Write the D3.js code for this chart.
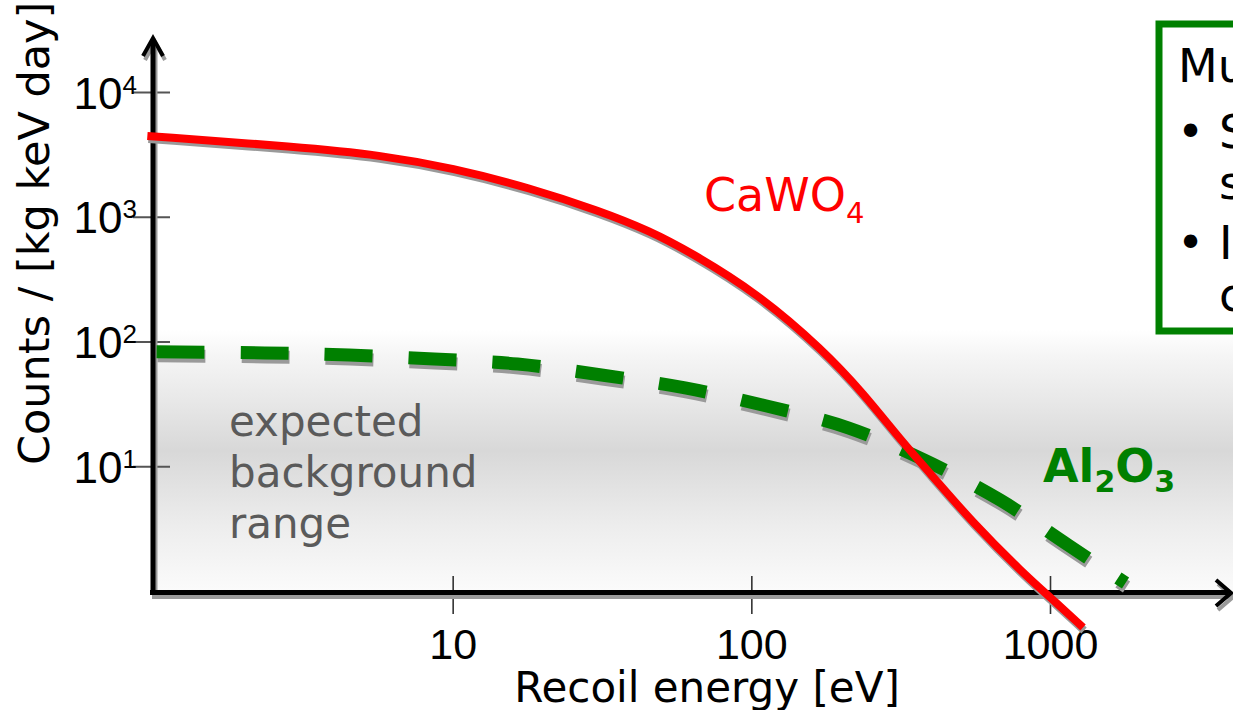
<!DOCTYPE html>
<html><head><meta charset="utf-8">
<script src="https://cdn.jsdelivr.net/npm/d3@7"></script>
<style>
body{margin:0;background:#fff;overflow:hidden}
svg{display:block;font-family:"DejaVu Sans",sans-serif}
</style>
</head><body>
<svg id="c" width="1233" height="710"></svg>
<script>
// ---- data ----
const energyCaWO4 = [0.95, 3.08, 5.71, 10, 18.2, 31.1, 45.8, 62.3, 104.5, 173.8, 236.6, 322, 396, 552, 813, 1000, 1290];
const countsCaWO4 = [4440, 3620, 3126, 2460, 1700, 1112, 769, 522, 245, 85.5, 38.7, 15.4, 8.83, 3.51, 1.39, 0.895, 0.51];
const energyAl2O3 = [1.02, 2.35, 4.5, 8.67, 16.5, 31.5, 60, 112.5, 211, 380, 680, 1148, 1790];
const countsAl2O3 = [82.6, 81, 78, 72.4, 66, 53.9, 42.4, 30.4, 20.3, 11.2, 5.37, 2.34, 1.16];
const xTickValues = [10, 100, 1000];
const xTickLabels = ["10", "100", "1000"];
const yTickValues = [10, 100, 1000, 10000];
const yTickExponents = ["1", "2", "3", "4"];
const boxLines = ["Multi-target approach:", "Sensitive to", "smaller masses", "Improved", "coverage"];

const svg = d3.select("#c");
const x = d3.scaleLog().domain([1, 1000]).range([154, 1050]);
const y = d3.scaleLog().domain([1, 10000]).range([591, 92]);

// background gradient band
const defs = svg.append("defs");
const grad = defs.append("linearGradient").attr("id", "bg").attr("x1", 0).attr("y1", 0).attr("x2", 0).attr("y2", 1);
[[0, "#ffffff"], [0.1, "#f5f5f5"], [0.27, "#e8e8e8"], [0.46, "#d8d8d8"], [0.75, "#ededed"], [1, "#fbfbfb"]]
  .forEach(([o, c]) => grad.append("stop").attr("offset", o).attr("stop-color", c));
svg.append("rect").attr("x", 153).attr("y", 330).attr("width", 1233 - 153).attr("height", 262).attr("fill", "url(#bg)");

// info box (clipped at the right edge)
svg.append("rect").attr("x", 1159).attr("y", 24).attr("width", 200).attr("height", 307)
  .attr("fill", "#fff").attr("stroke", "#008000").attr("stroke-width", 7);
const bx = svg.append("g").attr("font-size", 46).attr("fill", "#000");
bx.append("text").attr("x", 1178).attr("y", 82).text(boxLines[0]);
bx.append("text").attr("x", 1177).attr("y", 148).text("•");
bx.append("text").attr("x", 1219).attr("y", 148).text(boxLines[1]);
bx.append("text").attr("x", 1219).attr("y", 199).text(boxLines[2]);
bx.append("text").attr("x", 1177).attr("y", 259).text("•");
bx.append("text").attr("x", 1219).attr("y", 259).text(boxLines[3]);
bx.append("text").attr("x", 1219).attr("y", 311).text(boxLines[4]);

// y ticks
const yAxis = svg.append("g").attr("transform", "translate(170,0)")
  .call(d3.axisLeft(y).tickValues(yTickValues).tickSize(37).tickFormat(() => ""));
yAxis.select(".domain").remove();
yAxis.selectAll(".tick line").attr("stroke", "#555").attr("stroke-width", 2);
yAxis.selectAll(".tick text").remove();
yAxis.selectAll(".tick").each(function (d, i) {
  const t = d3.select(this).append("text").attr("x", -33).attr("y", 16)
    .attr("text-anchor", "end").attr("fill", "#000").attr("font-size", 44);
  t.append("tspan").text("10");
  t.append("tspan").attr("font-size", 26).attr("dy", -15).text(yTickExponents[i]);
});

// x ticks
const xAxis = svg.append("g").attr("transform", "translate(0,576)")
  .call(d3.axisBottom(x).tickValues(xTickValues).tickSize(38).tickFormat(() => ""));
xAxis.select(".domain").remove();
xAxis.selectAll(".tick line").attr("stroke", "#333").attr("stroke-width", 1.6);
xAxis.selectAll(".tick text").remove();
xAxis.selectAll(".tick").append("text").attr("y", 83).attr("text-anchor", "middle")
  .attr("font-size", 43).attr("fill", "#000").text((d, i) => xTickLabels[i]);

// axes lines with shadow + arrows
const ax = svg.append("g").attr("fill", "none").attr("stroke-linecap", "butt");
[["#9a9a9a", 2, 4], ["#000", 0, 0]].forEach(([c, dx, dy]) => {
  const g = ax.append("g").attr("transform", `translate(${dx},${dy})`).attr("stroke", c);
  g.append("line").attr("x1", 150).attr("x2", 1228).attr("y1", 592.5).attr("y2", 592.5).attr("stroke-width", 5);
  g.append("line").attr("x1", 153).attr("x2", 153).attr("y1", 40).attr("y2", 595).attr("stroke-width", 5);
  g.append("path").attr("d", "M143,56 L153,38 L163,56").attr("stroke-width", 4);
  g.append("path").attr("d", "M1216,580 L1231,593 L1216,606").attr("stroke-width", 4);
});

// curves
const redLine = d3.line().x(d => x(d[0])).y(d => y(d[1])).curve(d3.curveBasis);
const greenLine = d3.line().x(d => x(d[0])).y(d => y(d[1])).curve(d3.curveCatmullRom.alpha(0.5));
const red = energyCaWO4.map((e, i) => [e, countsCaWO4[i]]);
const green = energyAl2O3.map((e, i) => [e, countsAl2O3[i]]);

svg.append("path").attr("d", greenLine(green)).attr("fill", "none").attr("stroke", "#9a9a9a")
  .attr("stroke-width", 13).attr("stroke-dasharray", "48 36").attr("transform", "translate(1,4)");
svg.append("path").attr("d", redLine(red)).attr("fill", "none").attr("stroke", "#9a9a9a")
  .attr("stroke-width", 8).attr("transform", "translate(1,3)");
svg.append("path").attr("d", greenLine(green)).attr("fill", "none").attr("stroke", "#008000")
  .attr("stroke-width", 13).attr("stroke-dasharray", "48 36");
svg.append("path").attr("d", redLine(red)).attr("fill", "none").attr("stroke", "#ff0000")
  .attr("stroke-width", 8);

// labels
const lc = svg.append("text").attr("x", 704).attr("y", 211).attr("font-size", 46).attr("fill", "#ff0000");
lc.append("tspan").text("CaWO");
lc.append("tspan").attr("font-size", 29).attr("dy", 12).text("4");

const la = svg.append("text").attr("x", 1043).attr("y", 482).attr("font-size", 46)
  .attr("font-weight", "bold").attr("fill", "#008000");
la.append("tspan").text("Al");
la.append("tspan").attr("font-size", 30).attr("dy", 10).text("2");
la.append("tspan").attr("font-size", 46).attr("dy", -10).text("O");
la.append("tspan").attr("font-size", 30).attr("dy", 10).text("3");

const bg = svg.append("g").attr("font-size", 42).attr("fill", "#5a5a5a");
["expected", "background", "range"].forEach((t, i) =>
  bg.append("text").attr("x", 229).attr("y", 436 + i * 51).text(t));

// axis titles
svg.append("text").attr("transform", "translate(49,465) rotate(-90)").attr("font-size", 43)
  .attr("fill", "#000").text("Counts / [kg keV day]");
svg.append("text").attr("x", 707).attr("y", 702).attr("text-anchor", "middle").attr("font-size", 42)
  .attr("fill", "#000").text("Recoil energy [eV]");
</script>
</body></html>
